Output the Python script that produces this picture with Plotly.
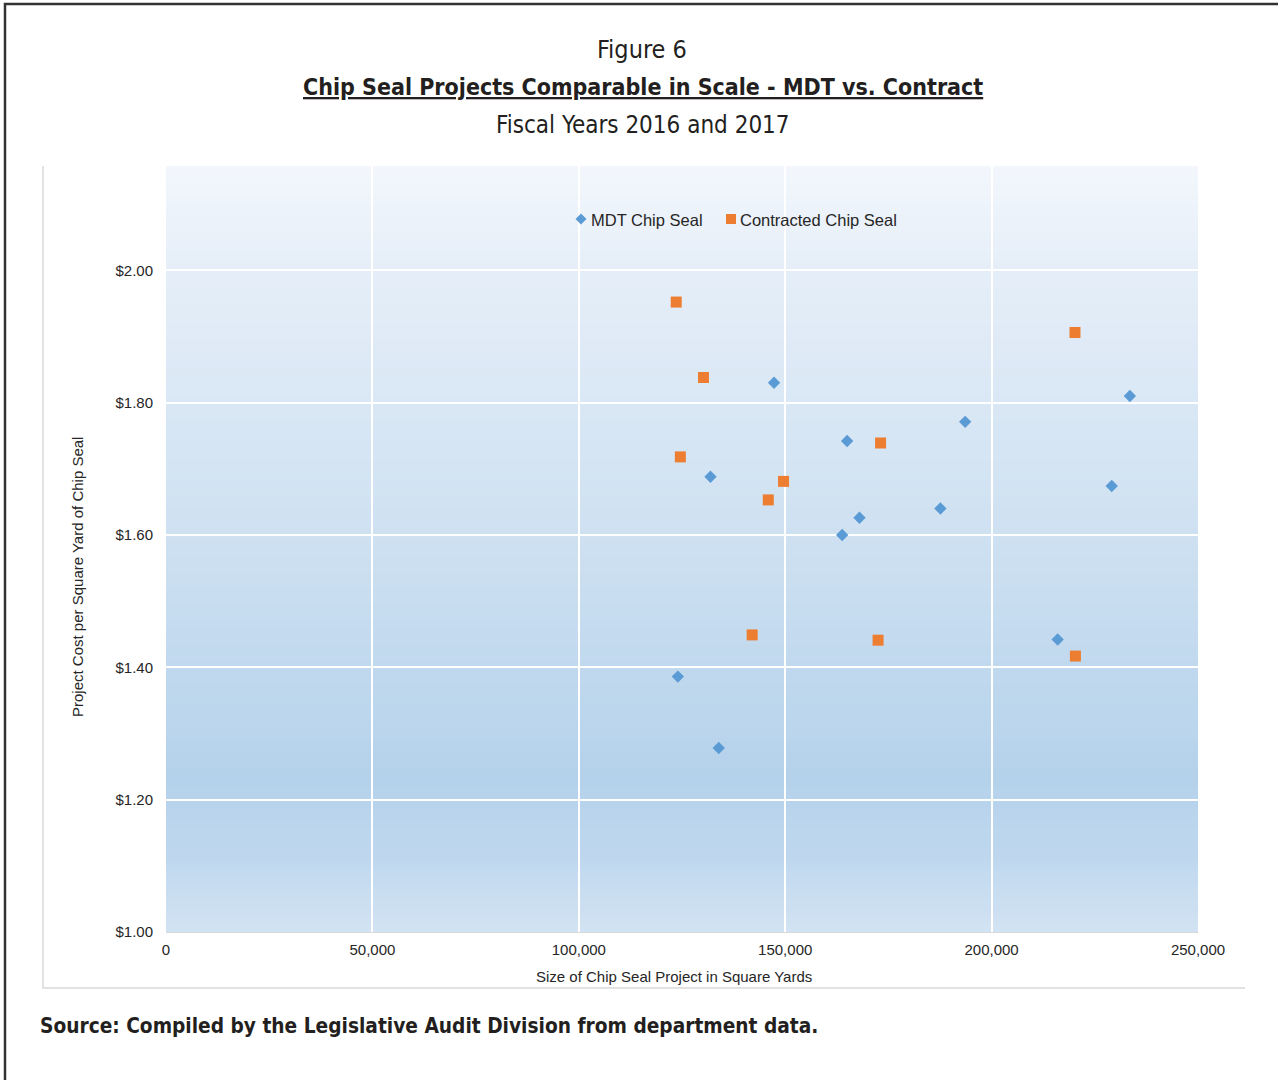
import plotly.graph_objects as go

# Project size (square yards) and cost per square yard
mdt_size = [147300, 165000, 193600, 233500, 131900, 168000, 187600, 229100,
            163800, 216000, 124000, 133900]
mdt_cost = [1.830, 1.742, 1.771, 1.810, 1.688, 1.626, 1.640, 1.674,
            1.600, 1.442, 1.386, 1.278]

contract_size = [123600, 220200, 130200, 173100, 124600, 149600, 145900,
                 142000, 172500, 220300]
contract_cost = [1.952, 1.906, 1.838, 1.739, 1.718, 1.681, 1.653,
                 1.449, 1.441, 1.417]

series_names = ["MDT Chip Seal", "Contracted Chip Seal"]
x_ticks = [0, 50000, 100000, 150000, 200000, 250000]
y_ticks = [1.0, 1.2, 1.4, 1.6, 1.8, 2.0]

BLUE = "#5b9bd5"
ORANGE = "#ed7d31"
TEXT = "#262626"
HEAD = "#231f20"
NARROW = "DejaVu Sans Condensed, sans-serif"
SANS = "Liberation Sans, Arial, sans-serif"

fig = go.Figure()
fig.add_trace(go.Scatter(
    x=mdt_size, y=mdt_cost, mode="markers", name=series_names[0],
    marker=dict(symbol="diamond", size=9.5, color=BLUE, line=dict(width=0)),
))
fig.add_trace(go.Scatter(
    x=contract_size, y=contract_cost, mode="markers", name=series_names[1],
    marker=dict(symbol="square", size=11, color=ORANGE, line=dict(width=0)),
))

# vertical gradient behind the plot area
stops = [(0.0, (243, 247, 252)), (0.14, (229, 238, 248)), (0.5, (205, 224, 241)),
         (0.8, (181, 210, 235)), (0.9, (190, 215, 238)), (1.0, (210, 227, 243))]


def grad(t):
    for (t0, c0), (t1, c1) in zip(stops[:-1], stops[1:]):
        if t0 <= t <= t1:
            f = (t - t0) / (t1 - t0)
            return "rgb(%d,%d,%d)" % tuple(round(a + (b - a) * f) for a, b in zip(c0, c1))
    return "rgb(%d,%d,%d)" % stops[-1][1]


shapes = []
n = 150
for i in range(n):
    y0 = 1 - (i + 1) / n
    y1 = 1 - i / n
    shapes.append(dict(type="rect", xref="x domain", yref="y domain",
                       x0=0, x1=1, y0=y0, y1=min(1, y1 + 0.002), layer="below",
                       line=dict(width=0), fillcolor=grad((i + 0.5) / n)))


# pixel -> paper helpers (plot area spans 166..1198 px wide, 166..932 px tall)
def px_x(p):
    return (p - 166) / 1032


def px_y(p):
    return (932 - p) / 766


# outer frame (dark) and chart-area border (light gray)
shapes.append(dict(type="path", xref="paper", yref="paper",
                   path="M %f %f L %f %f L %f %f" % (px_x(5), px_y(1090), px_x(5), px_y(4),
                                                    px_x(1290), px_y(4)),
                   line=dict(color="#333333", width=2.5)))
shapes.append(dict(type="path", xref="paper", yref="paper",
                   path="M %f %f L %f %f L %f %f" % (px_x(43), px_y(166), px_x(43), px_y(988),
                                                    px_x(1245), px_y(988)),
                   line=dict(color="#d9d9d9", width=1.5)))

# legend keys
lx1, lx2, ly, hw = 581, 731, 219, 5.5
shapes.append(dict(type="path", xref="paper", yref="paper",
                   path="M %f %f L %f %f L %f %f L %f %f Z" % (
                       px_x(lx1 - hw), px_y(ly), px_x(lx1), px_y(ly - hw),
                       px_x(lx1 + hw), px_y(ly), px_x(lx1), px_y(ly + hw)),
                   fillcolor=BLUE, line=dict(width=0)))
shapes.append(dict(type="rect", xref="paper", yref="paper",
                   x0=px_x(lx2 - 5), x1=px_x(lx2 + 5), y0=px_y(ly + 5), y1=px_y(ly - 5),
                   fillcolor=ORANGE, line=dict(width=0)))


def note(text, x, y, size, family=SANS, color=TEXT, xanchor="center", angle=0):
    return dict(text=text, x=px_x(x), y=px_y(y), xref="paper", yref="paper",
                xanchor=xanchor, yanchor="middle", showarrow=False, textangle=angle,
                font=dict(family=family, size=size, color=color))


annotations = [
    note("Figure 6", 642, 50, 25, NARROW, HEAD),
    note("<b><u>Chip Seal Projects Comparable in Scale - MDT vs. Contract</u></b>",
         642.5, 87, 23, NARROW, HEAD),
    note("Fiscal Years 2016 and 2017", 642.5, 125, 24, NARROW, HEAD),
    note("Size of Chip Seal Project in Square Yards", 673.5, 976, 15),
    note("Project Cost per Square Yard of Chip Seal", 77, 577, 15, angle=-90),
    note("<b>Source: Compiled by the Legislative Audit Division from department data.</b>",
         38, 1026, 20.7, NARROW, HEAD, xanchor="left"),
    note(series_names[0], 589, 220, 16.5, xanchor="left"),
    note(series_names[1], 738, 220, 16.5, xanchor="left"),
]

fig.update_layout(
    width=1278, height=1080,
    margin=dict(l=166, r=80, t=166, b=148),
    paper_bgcolor="white", plot_bgcolor="rgba(0,0,0,0)",
    font=dict(family=SANS, color=TEXT),
    shapes=shapes, annotations=annotations,
    showlegend=False,
)
fig.update_xaxes(range=[0, 250000], tickvals=x_ticks, tickformat=",",
                 showgrid=True, gridcolor="white", gridwidth=1.5, zeroline=False,
                 showline=True, linecolor="#d9d9d9", linewidth=1,
                 ticks="", ticklabelstandoff=4,
                 tickfont=dict(family=SANS, size=15, color=TEXT))
fig.update_yaxes(range=[1.0, 1 + 766 / 661.7], tickvals=y_ticks,
                 tickformat="$.2f", showgrid=True, gridcolor="white", gridwidth=1.5,
                 zeroline=False, showline=False, ticks="", ticklabelstandoff=12,
                 tickfont=dict(family=SANS, size=15, color=TEXT))

fig.write_html("out.html")
